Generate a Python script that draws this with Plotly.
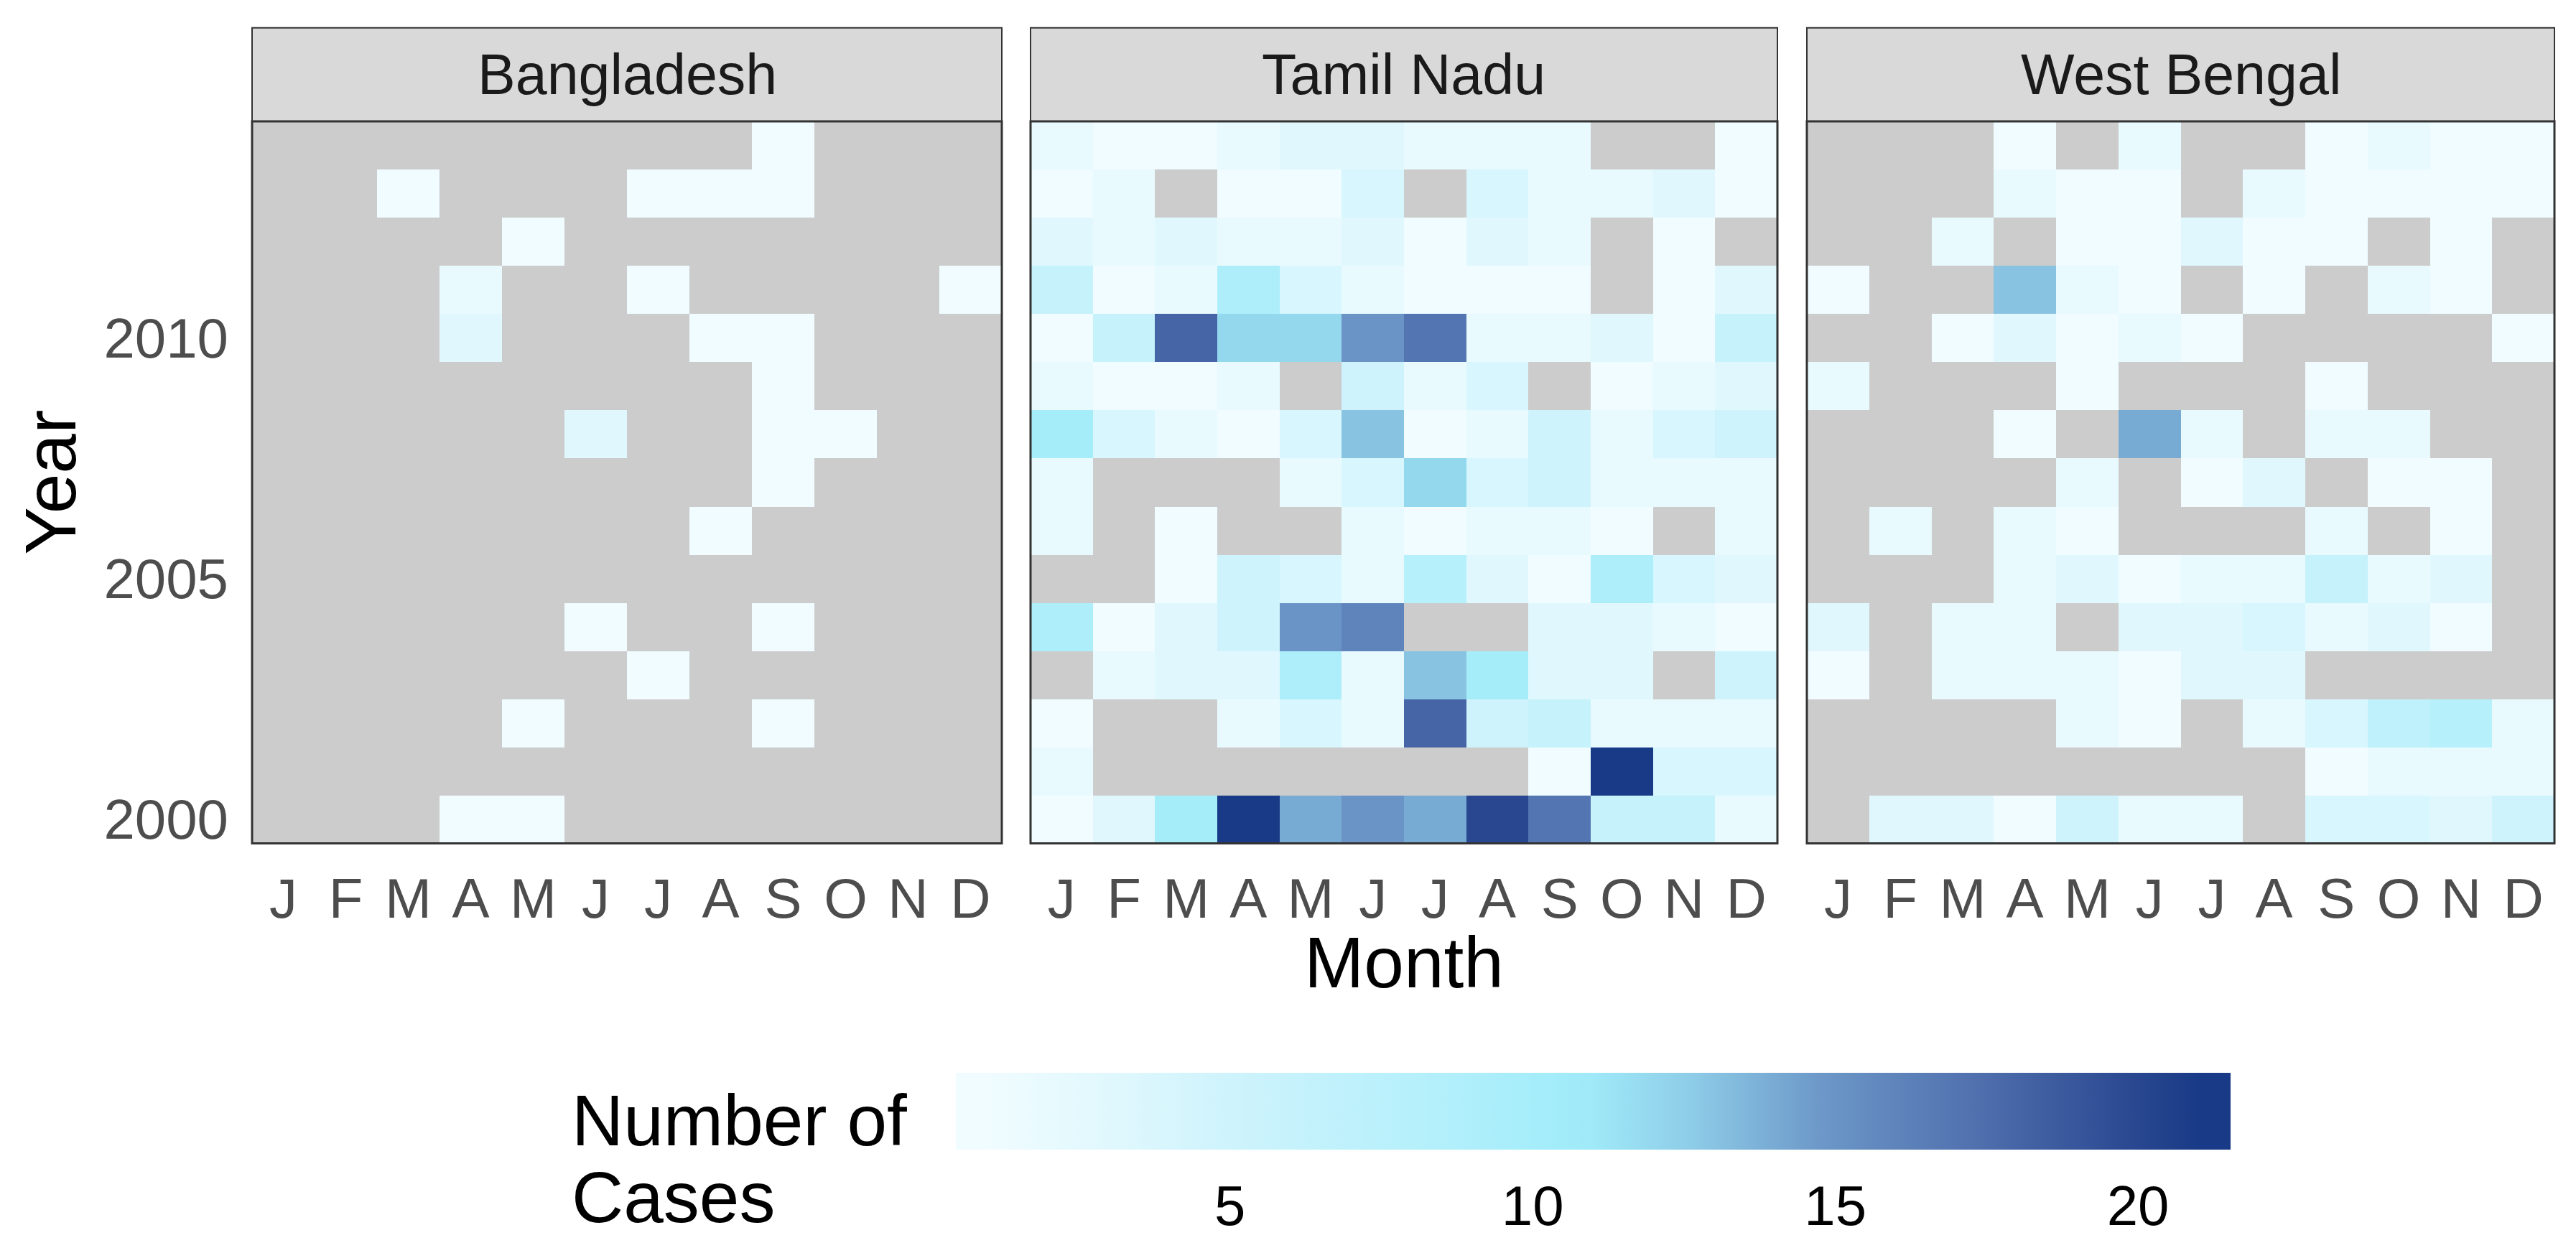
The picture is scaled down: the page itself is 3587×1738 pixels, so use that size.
import plotly.graph_objects as go

W, H = 3587, 1738

regions = ["Bangladesh", "Tamil Nadu", "West Bengal"]
months = ["J", "F", "M", "A", "M", "J", "J", "A", "S", "O", "N", "D"]
month_num = list(range(1, 13))
years = list(range(2014, 1999, -1))  # rows listed top (2014) to bottom (2000)
year_ticks = [2000, 2005, 2010]
cbar_ticks = [5, 10, 15, 20]
N = None

bangladesh = [
    [N, N, N, N, N, N, N, N, 1, N, N, N],
    [N, N, 1, N, N, N, 1, 1, 1, N, N, N],
    [N, N, N, N, 1, N, N, N, N, N, N, N],
    [N, N, N, 2, N, N, 1, N, N, N, N, 1],
    [N, N, N, 3, N, N, N, 1, 1, N, N, N],
    [N, N, N, N, N, N, N, N, 1, N, N, N],
    [N, N, N, N, N, 3, N, N, 1, 1, N, N],
    [N, N, N, N, N, N, N, N, 1, N, N, N],
    [N, N, N, N, N, N, N, 1, N, N, N, N],
    [N, N, N, N, N, N, N, N, N, N, N, N],
    [N, N, N, N, N, 1, N, N, 1, N, N, N],
    [N, N, N, N, N, N, 1, N, N, N, N, N],
    [N, N, N, N, 1, N, N, N, 1, N, N, N],
    [N, N, N, N, N, N, N, N, N, N, N, N],
    [N, N, N, 1, 1, N, N, N, N, N, N, N],
]

tamil_nadu = [
    [2, 1, 1, 2, 3, 3, 2, 2, 2, N, N, 1],
    [1, 2, N, 1, 1, 4, N, 4, 2, 2, 3, 1],
    [3, 2, 3, 2, 2, 3, 1, 3, 2, N, 1, N],
    [6, 1, 2, 9, 4, 2, 1, 1, 1, N, 1, 3],
    [1, 6, 18, 12, 12, 15, 17, 2, 2, 3, 1, 6],
    [2, 1, 1, 2, N, 5, 2, 4, N, 1, 2, 3],
    [10, 4, 2, 1, 4, 13, 1, 2, 5, 2, 4, 5],
    [2, N, N, N, 2, 4, 12, 4, 5, 2, 2, 2],
    [2, N, 1, N, N, 2, 1, 2, 2, 1, N, 2],
    [N, N, 1, 5, 4, 2, 8, 3, 1, 9, 4, 3],
    [9, 1, 3, 5, 15, 16, N, N, 3, 3, 2, 1],
    [N, 2, 3, 3, 9, 2, 13, 10, 3, 3, N, 5],
    [1, N, N, 2, 4, 2, 18, 5, 6, 2, 2, 2],
    [2, N, N, N, N, N, N, N, 1, 21, 4, 4],
    [1, 3, 10, 21, 14, 15, 14, 20, 17, 6, 6, 2],
]

west_bengal = [
    [N, N, N, 1, N, 2, N, N, 1, 2, 1, 1],
    [N, N, N, 2, 1, 1, N, 2, 1, 1, 1, 1],
    [N, N, 2, N, 1, 1, 3, 1, 1, N, 1, N],
    [1, N, N, 13, 2, 1, N, 1, N, 2, 1, N],
    [N, N, 1, 3, 1, 2, 1, N, N, N, N, 1],
    [2, N, N, N, 1, N, N, N, 1, N, N, N],
    [N, N, N, 1, N, 14, 2, N, 2, 2, N, N],
    [N, N, N, N, 2, N, 1, 3, N, 1, 1, N],
    [N, 2, N, 2, 1, N, N, N, 2, N, 1, N],
    [N, N, N, 2, 3, 1, 2, 2, 6, 2, 3, N],
    [3, N, 2, 2, N, 3, 3, 4, 2, 3, 1, N],
    [1, N, 2, 2, 2, 1, 3, 3, N, N, N, N],
    [N, N, N, N, 2, 1, N, 2, 4, 7, 8, 2],
    [N, N, N, N, N, N, N, N, 1, 2, 2, 2],
    [N, 3, 3, 1, 5, 2, 2, N, 4, 4, 3, 5],
]

grids = [bangladesh, tamil_nadu, west_bengal]

# ---------------- styling ----------------
FONT = "Liberation Sans, Arial, sans-serif"
CMIN, CMAX = 0.47, 21.53


def norm(v):
    return (v - CMIN) / (CMAX - CMIN)


stops = [
    (CMIN, "#F0FCFF"), (1, "#F0FCFF"), (3, "#E0F8FD"), (5, "#CEF3FC"),
    (8, "#B6F0FB"), (10.5, "#A2ECFA"), (11, "#9FE9F8"), (12.6, "#8ECDE8"),
    (14.8, "#6C97C8"), (17.3, "#5070AE"), (19.7, "#2D4B93"), (21, "#193A86"),
    (CMAX, "#193A86"),
]
colorscale = [[norm(v), c] for v, c in stops]
colorscale[0][0] = 0.0
colorscale[-1][0] = 1.0


def px_x(x):
    return x / W


def px_y(y):
    return 1 - y / H


panel_x = [(343, 1387), (1427, 2467), (2508, 3549)]
panel_top, panel_bot = 162, 1174
strip_top = 31
CB_X0, CB_X1, CB_Y0, CB_H = 1323, 3098, 1495, 107
# Bangladesh uses a twin colour axis (same scale) whose bar carries the white inside ticks
axis_for = ["coloraxis2", "coloraxis", "coloraxis"]

fig = go.Figure()
for i, (name, grid) in enumerate(zip(regions, grids)):
    sfx = "" if i == 0 else str(i + 1)
    fig.add_trace(go.Heatmap(
        z=grid, x=month_num, y=years, coloraxis=axis_for[i],
        xaxis="x" + sfx, yaxis="y" + sfx, hoverongaps=False,
        name=name,
    ))
    x0, x1 = panel_x[i]
    fig.layout["xaxis" + sfx] = dict(
        domain=[px_x(x0), px_x(x1)], range=[0.5, 12.5], tickvals=month_num,
        ticktext=months, showgrid=False, zeroline=False, ticks="",
        tickfont=dict(size=78, color="#4D4D4D", family=FONT),
        ticklabelstandoff=24, anchor="y" + sfx, fixedrange=True,
    )
    fig.layout["yaxis" + sfx] = dict(
        domain=[px_y(panel_bot), px_y(panel_top)], range=[1999.5, 2014.5],
        tickvals=year_ticks, showgrid=False, zeroline=False, ticks="",
        showticklabels=(i == 0),
        tickfont=dict(size=78, color="#4D4D4D", family=FONT),
        ticklabelstandoff=32, anchor="x" + sfx, fixedrange=True,
    )
    # strip
    fig.add_shape(type="rect", xref="paper", yref="paper",
                  x0=px_x(x0), x1=px_x(x1), y0=px_y(panel_top), y1=px_y(strip_top),
                  fillcolor="#D9D9D9", line=dict(color="#333333", width=2), layer="above")
    fig.add_annotation(xref="paper", yref="paper", x=px_x((x0 + x1) / 2),
                       y=px_y((strip_top + panel_top) / 2), text=name, showarrow=False,
                       font=dict(size=79, color="#1A1A1A", family=FONT),
                       xanchor="center", yanchor="middle")
    # panel border
    fig.add_shape(type="rect", xref="paper", yref="paper",
                  x0=px_x(x0), x1=px_x(x1), y0=px_y(panel_bot), y1=px_y(panel_top),
                  line=dict(color="#333333", width=3), layer="above")

# axis titles
fig.add_annotation(xref="paper", yref="paper", x=px_x(1947), y=px_y(1340), text="Month",
                   showarrow=False, font=dict(size=100, color="black", family=FONT),
                   xanchor="center", yanchor="middle")
fig.add_annotation(xref="paper", yref="paper", x=px_x(62), y=px_y(668), text="Year",
                   showarrow=False, textangle=-90,
                   font=dict(size=100, color="black", family=FONT),
                   xanchor="center", yanchor="middle")
# legend title
fig.add_annotation(xref="paper", yref="paper", x=px_x(786), y=px_y(1562), text="Number of",
                   showarrow=False, font=dict(size=100, color="black", family=FONT),
                   xanchor="left", yanchor="middle")
fig.add_annotation(xref="paper", yref="paper", x=px_x(786), y=px_y(1670), text="Cases",
                   showarrow=False, font=dict(size=100, color="black", family=FONT),
                   xanchor="left", yanchor="middle")

cb_common = dict(
    orientation="h", x=px_x(CB_X0), xanchor="left", y=px_y(CB_Y0), yanchor="top",
    lenmode="pixels", len=CB_X1 - CB_X0, thicknessmode="pixels", thickness=CB_H,
    xpad=0, ypad=0, outlinewidth=0, tickvals=cbar_ticks,
)

fig.update_layout(
    width=W, height=H,
    margin=dict(l=0, r=0, t=0, b=0),
    paper_bgcolor="white", plot_bgcolor="#CCCCCC",
    font=dict(family=FONT, color="black"),
    coloraxis=dict(
        colorscale=colorscale, cmin=CMIN, cmax=CMAX,
        colorbar=dict(**cb_common, ticks="outside", ticklen=12, tickwidth=1,
                      tickcolor="rgba(0,0,0,0)",
                      tickfont=dict(size=78, color="black", family=FONT)),
    ),
    coloraxis2=dict(
        colorscale=colorscale, cmin=CMIN, cmax=CMAX,
        colorbar=dict(**cb_common, ticks="inside", ticklen=22, tickwidth=2,
                      tickcolor="white", showticklabels=False),
    ),
    showlegend=False,
)

fig.write_html("out.html")
